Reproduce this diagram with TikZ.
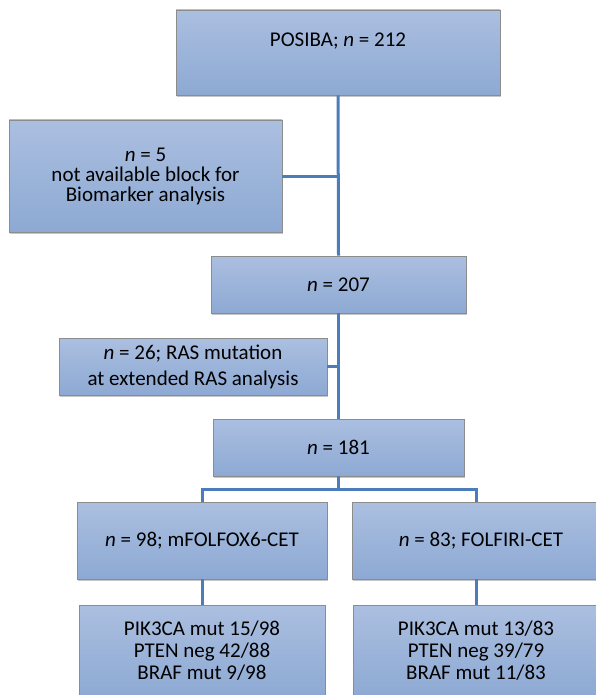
\documentclass[tikz,border=0pt]{standalone}
\usepackage{fontspec}
\setmainfont{Carlito}
\usetikzlibrary{shadows}
\definecolor{boxtop}{HTML}{ABBFE0}
\definecolor{boxbot}{HTML}{8DA9D3}
\definecolor{boxline}{HTML}{8C8C8C}
\definecolor{connc}{HTML}{4A7DBA}
\begin{document}
\begin{tikzpicture}[x=1pt,y=-1pt,
  box/.style={draw=boxline, line width=0.8pt, top color=boxtop, bottom color=boxbot,
    align=center, inner sep=0pt, font=\fontsize{21}{22}\selectfont,
    drop shadow={shadow xshift=1.2pt, shadow yshift=-1.6pt, opacity=0.45, fill=gray}},
  conn/.style={draw=connc, line width=3pt}]
\useasboundingbox (0,0) rectangle (595,695);

\node[box, minimum width=324pt, minimum height=85pt, font=\fontsize{21}{20}\selectfont] (b1) at (338,52.5) {POSIBA; \textit{n} = 212\\ \strut};
\node[box, minimum width=273pt, minimum height=112pt, font=\fontsize{21}{20}\selectfont] (b2) at (145.5,176) {\textit{n} = 5\\not available block for\\Biomarker analysis};
\node[box, minimum width=255pt, minimum height=57pt] (b3) at (338.5,284.5) {\textit{n} = 207};
\node[box, minimum width=268pt, minimum height=57pt, font=\fontsize{21}{26}\selectfont] (b4) at (193,366.5) {\textit{n} = 26; RAS mutation\\at extended RAS analysis};
\node[box, minimum width=251pt, minimum height=57pt] (b5) at (338.5,447.5) {\textit{n} = 181};
\node[box, minimum width=250pt, minimum height=77pt] (b6) at (202,540.5) {\textit{n} = 98; mFOLFOX6-CET};
\node[box, minimum width=258pt, minimum height=77pt] (b7) at (481,540.5) {\textit{n} = 83; FOLFIRI-CET};
\node[box, minimum width=246pt, minimum height=92pt] (b8) at (202,651) {PIK3CA mut 15/98\\PTEN neg 42/88\\BRAF mut 9/98};
\node[box, minimum width=246pt, minimum height=92pt] (b9) at (476,651) {PIK3CA mut 13/83\\PTEN neg 39/79\\BRAF mut 11/83};

\coordinate (bl) at (202,489);
\coordinate (br) at (476,489);

\draw[conn] (b1.south) -- (b3.north);
\draw[conn] (b2.east) -- (b2.east -| b1.south);
\draw[conn] (b3.south) -- (b5.north);
\draw[conn] (b4.east) -- (b4.east -| b3.south);
\draw[conn] (b5.south) -- (b5.south |- bl);
\draw[conn] (b6.north) -- (bl) -- (br) -- (br |- b7.north);
\draw[conn] (b6.south) -- (b8.north);
\draw[conn] (br |- b7.south) -- (b9.north);
\end{tikzpicture}
\end{document}
